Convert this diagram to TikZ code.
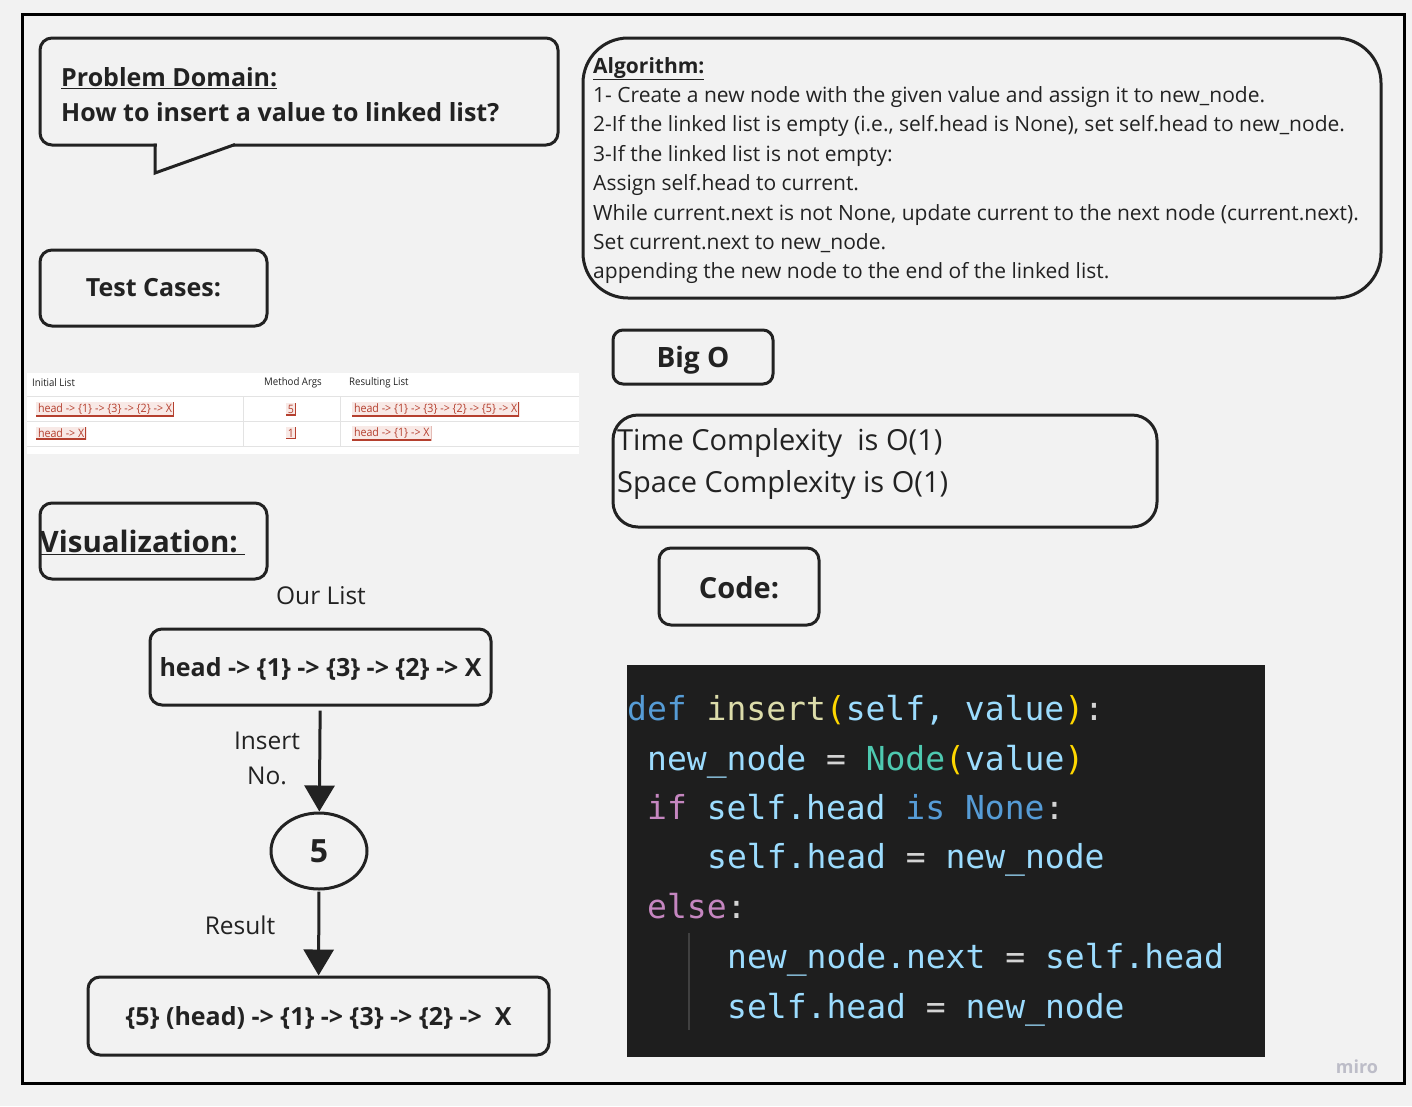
\documentclass[tikz,border=0pt]{standalone}
\usepackage{fontspec}
\setmainfont{Open Sans}
\newfontfamily\condfont[FakeStretch=0.92]{Open Sans}
\setmonofont{DejaVu Sans Mono}
\usetikzlibrary{shapes.geometric,positioning,arrows.meta,calc}

\definecolor{bg}{HTML}{F2F2F2}
\definecolor{ink}{HTML}{222222}
\definecolor{codebg}{HTML}{1E1E1E}
\definecolor{kwblue}{HTML}{569CD6}
\definecolor{fnyel}{HTML}{DCDCAA}
\definecolor{brgold}{HTML}{FFD700}
\definecolor{varblue}{HTML}{9CDCFE}
\definecolor{clsteal}{HTML}{4EC9B0}
\definecolor{ctlpink}{HTML}{C586C0}
\definecolor{optext}{HTML}{D4D4D4}
\definecolor{guide}{HTML}{404040}
\definecolor{tagred}{HTML}{B5402F}
\definecolor{tagbg}{HTML}{F8E9E6}
\definecolor{rulegray}{HTML}{E3E3E3}
\definecolor{mirogray}{HTML}{BDBDC8}

\begin{document}
\begin{tikzpicture}[
    % style def
    x=1pt, y=-1pt,
    box/.style={draw=ink, line width=3pt, rounded corners=12pt},
    title/.style={font=\fontsize{25}{30}\selectfont\bfseries, text=ink},
    plain/.style={font=\fontsize{24.5}{35}\selectfont, text=ink},
    flow/.style={draw=ink, line width=3pt, -{Triangle[length=26pt,width=30pt]}},
    tag/.style={fill=tagbg, text=tagred, inner sep=1.8pt,
        font=\condfont\fontsize{11.6}{12}\selectfont,
        path picture={\draw[tagred, line width=1.6pt]
            (path picture bounding box.south west) --
            (path picture bounding box.south east) --
            (path picture bounding box.north east);}},
    colhead/.style={anchor=west, inner sep=0, text=ink, font=\condfont\fontsize{10.5}{11}\selectfont},
    code/.style={anchor=base west, inner sep=0, text=varblue,
        font=\ttfamily\fontsize{33}{40}\selectfont}
    ]
    \useasboundingbox (0,0) rectangle (1412,1106);
    \fill[bg] (0,0) rectangle (1412,1106);
    \draw[black, line width=3pt] (22,14) rectangle (1404,1083);

    % problem domain bubble
    \draw[box] (40,38) rectangle (558,145);
    \fill[bg] (157,142) rectangle (233,148);
    \draw[draw=ink, line width=3pt, line join=miter] (155,143.5) -- (155,173) -- (235,144.5);
    \node[title, anchor=west, inner sep=0, align=left, font=\fontsize{25}{35}\selectfont\bfseries]
        (problem) at (61,95) {\underline{Problem Domain:}\\How to insert a value to linked list?};

    % algorithm
    \node[box, rounded corners=45pt, minimum width=798pt, minimum height=260pt] (algobox) at (982,168) {};
    \node[anchor=west, inner sep=0, align=left, text=ink, font=\fontsize{21}{29.4}\selectfont]
        (algo) at (593,170.5) {\textbf{\underline{Algorithm:}}\\
        1- Create a new node with the given value and assign it to new\_node.\\
        2-If the linked list is empty (i.e., self.head is None), set self.head to new\_node.\\
        3-If the linked list is not empty:\\
        Assign self.head to current.\\
        While current.next is not None, update current to the next node (current.next).\\
        Set current.next to new\_node.\\
        appending the new node to the end of the linked list.};

    % test cases
    \node[box, title, minimum width=227pt, minimum height=76pt] (tests) at (153.5,288) {Test Cases:};
    \fill[white] (27,373) rectangle (579,454);
    \foreach \y in {396,421,446}
        \draw[rulegray, line width=1pt] (27,\y) -- (579,\y);
    \foreach \x in {243,340}
        \draw[rulegray, line width=1pt] (\x,396) -- (\x,446);
    \node[colhead] (hinit) at (32,383) {Initial List};
    \node[colhead] (hargs) at (264,383) {Method Args};
    \node[colhead] (hres) at (349,383) {Resulting List};
    \node[tag, anchor=west] (initA) at (36,409) {head -> \{1\} -> \{3\} -> \{2\} -> X};
    \node[tag] (argA) at (291,409) {5};
    \node[tag, anchor=west] (resA) at (352,409) {head -> \{1\} -> \{3\} -> \{2\} -> \{5\} -> X};
    \node[tag, anchor=west] (initB) at (36,433) {head -> X};
    \node[tag] (argB) at (291,433) {1};
    \node[tag, anchor=west] (resB) at (352,433) {head -> \{1\} -> X};

    % visualization
    \node[box, minimum width=227pt, minimum height=76pt] (vis) at (153.5,541) {};
    \node[title, anchor=west, inner sep=0, font=\fontsize{29.5}{34}\selectfont\bfseries]
        (vistext) at ([xshift=1pt, yshift=-1pt]vis.west) {\underline{Visualization:\ }};
    \node[plain] (ourlist) at (321,596) {Our List};
    \node[box, title, minimum width=341pt, minimum height=76pt] (list) at (320.5,667)
        {\raisebox{-2pt}[\height][\depth]{head -> \{1\} -> \{3\} -> \{2\} -> X}};
    \node[ellipse, draw=ink, line width=3pt, minimum width=96pt, minimum height=76pt,
        font=\fontsize{32}{36}\selectfont\bfseries, text=ink] (five) at (319,851) {5};
    \node[box, title, minimum width=461pt, minimum height=78pt] (result) at (318.5,1016)
        {\raisebox{-2pt}[\height][\depth]{\{5\} (head) -> \{1\} -> \{3\} -> \{2\} ->~~X}};
    \draw[flow, shorten <=4pt] (list) -- (five);
    \draw[flow, shorten <=1pt] (five) -- (result);
    \node[plain, align=center] (insert) at (267,758) {Insert\\No.};
    \node[plain] (reslabel) at (240,925) {Result};

    % big o
    \node[box, title, rounded corners=10pt, minimum width=160pt, minimum height=54pt,
        font=\fontsize{28}{34}\selectfont\bfseries] (bigo) at (693,357) {\raisebox{-3pt}[\height][\depth]{Big O}};
    \node[box, rounded corners=25pt, minimum width=544pt, minimum height=112pt] (cplx) at (885,471) {};
    \node[anchor=west, inner sep=0, align=left, text=ink, font=\fontsize{29}{42}\selectfont]
        (cplxtext) at (617,464) {Time Complexity~~is O(1)\\Space Complexity is O(1)};

    % code
    \node[box, title, minimum width=160pt, minimum height=77pt,
        font=\fontsize{29}{34}\selectfont\bfseries] (codehead) at (739,586.5) {\raisebox{-1.5pt}[\height][\depth]{Code:}};
    \fill[codebg] (627,665) rectangle (1265,1057);
    \draw[guide, line width=1.5pt] (689,933) -- (689,1030);
    \node[code] (c1) at (627,720) {{\color{kwblue}def} {\color{fnyel}insert}{\color{brgold}(}self, value{\color{brgold})}{\color{optext}:}};
    \node[code] (c2) at (647,770) {new\_node {\color{optext}=} {\color{clsteal}Node}{\color{brgold}(}value{\color{brgold})}};
    \node[code] (c3) at (647,819) {{\color{ctlpink}if} self.head {\color{kwblue}is} {\color{kwblue}None}{\color{optext}:}};
    \node[code] (c4) at (707,868) {self.head {\color{optext}=} new\_node};
    \node[code] (c5) at (647,918) {{\color{ctlpink}else}{\color{optext}:}};
    \node[code] (c6) at (727,968) {new\_node.next {\color{optext}=} self.head};
    \node[code] (c7) at (727,1018) {self.head {\color{optext}=} new\_node};

    \node[text=mirogray, font=\fontsize{18}{20}\selectfont\bfseries] (miro) at (1357,1067) {miro};
\end{tikzpicture}
\end{document}
